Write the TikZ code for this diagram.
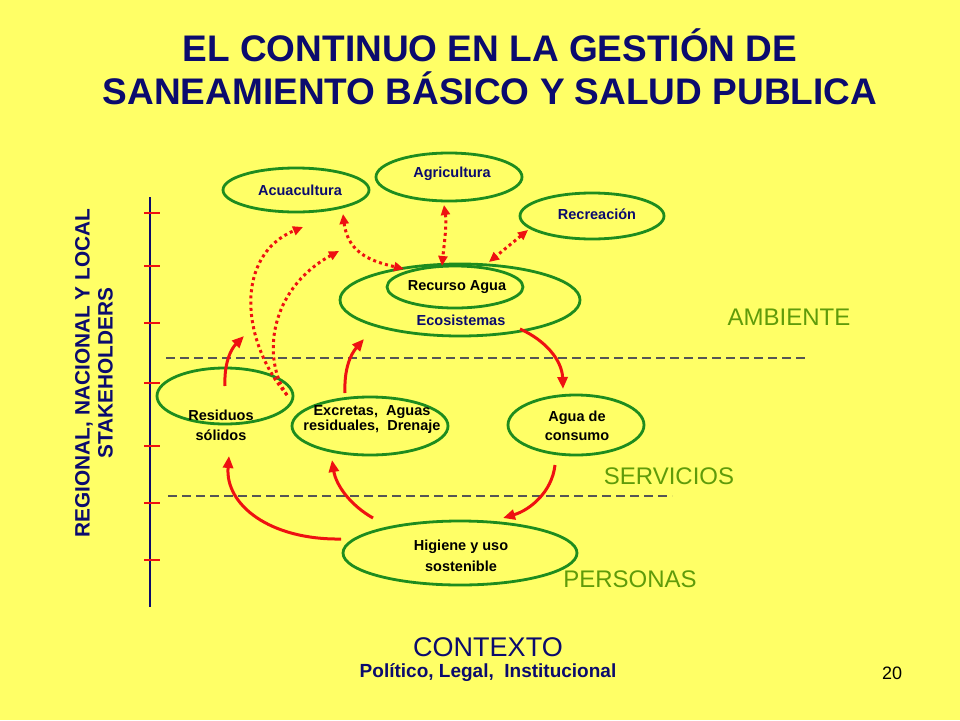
\documentclass[tikz,border=0pt]{standalone}
\usepackage{fontspec}
\setmainfont{Liberation Sans}
\usetikzlibrary{arrows.meta,shapes.geometric}
\definecolor{bgy}{HTML}{FFFF66}
\definecolor{navy}{HTML}{0B0B6E}
\definecolor{egreen}{HTML}{1E8C1E}
\definecolor{lgreen}{HTML}{5F9B0A}
\definecolor{ared}{HTML}{EE1111}
\definecolor{dgray}{HTML}{555555}
\begin{document}
\begin{tikzpicture}[x=1pt,y=-1pt,
  ell/.style={draw=egreen,line width=2.8pt,ellipse,inner sep=0pt},
  etext/.style={font=\fontsize{14.5}{15}\selectfont\bfseries,inner sep=0pt,align=center},
  zone/.style={font=\fontsize{24}{26}\selectfont,text=lgreen,inner sep=0pt},
  solidarr/.style={draw=ared,line width=3pt,-{Triangle[length=12pt,width=10pt]}},
  dotarr/.style={draw=ared,line width=3pt,dash pattern=on 3pt off 3.2pt,-{Triangle[length=10pt,width=9pt]}},
  dotarrb/.style={draw=ared,line width=3pt,dash pattern=on 3pt off 3.2pt,{Triangle[length=10pt,width=9pt]}-{Triangle[length=10pt,width=9pt]}},
  sep/.style={draw=dgray,line width=1.3pt,dash pattern=on 9pt off 5pt}]
\fill[bgy] (0,0) rectangle (960,720);
\useasboundingbox (0,0) rectangle (960,720);

% title
\node[font=\fontsize{37}{43}\selectfont\bfseries,text=navy,align=center,inner sep=0pt] (title) at (490,67)
  {EL CONTINUO EN LA GESTIÓN DE\\SANEAMIENTO BÁSICO Y SALUD PUBLICA};

% axis
\coordinate (axtop) at (150,197);
\coordinate (axbot) at (150,607);
\draw[navy,line width=2pt] (axtop) -- (axbot);
\foreach \yy in {213,266,323,383,446,503,560}{
  \draw[ared,line width=1.3pt] (144,\yy) -- (160,\yy);
}
\node[rotate=90,font=\fontsize{20.8}{23}\selectfont\bfseries,text=navy,align=center,inner sep=0pt] (stake) at (94,373)
  {REGIONAL, NACIONAL Y LOCAL\\STAKEHOLDERS};

% separators
\coordinate (s1a) at (166,358); \coordinate (s1b) at (808,358);
\coordinate (s2a) at (168,496); \coordinate (s2b) at (672,496);
\draw[sep] (s1a) -- (s1b);
\draw[sep] (s2a) -- (s2b);

% ellipses
\node[ell,minimum width=146pt,minimum height=44pt] (acua) at (296,190) {};
\node[ell,minimum width=146pt,minimum height=48pt] (agri) at (449,177) {};
\node[ell,minimum width=144pt,minimum height=46pt] (recr) at (592,216) {};
\node[ell,minimum width=240pt,minimum height=72pt] (eco) at (460,300) {};
\node[ell,minimum width=136pt,minimum height=42pt] (recu) at (455,287) {};
\node[ell,minimum width=136pt,minimum height=56pt] (resi) at (225,396) {};
\node[ell,minimum width=156pt,minimum height=58pt] (excr) at (370,426) {};
\node[ell,minimum width=136pt,minimum height=60pt] (cons) at (576,425) {};
\node[ell,minimum width=234pt,minimum height=64pt] (higi) at (460,553) {};

% ellipse texts
\node[etext,text=navy] (tacua) at (300,190) {Acuacultura};
\node[etext,text=navy] (tagri) at (452,174) {Agricultura};
\node[etext,text=navy] (trecr) at (597,214) {Recreación};
\node[etext,text=black] (trecu) at (457,287) {Recurso Agua};
\node[etext,text=navy] (teco) at (461,320) {Ecosistemas};
\node[etext,text=black,font=\fontsize{14.5}{20}\selectfont\bfseries] (tresi) at (221,425) {Residuos\\sólidos};
\node[etext,text=black] (texcr) at (372,420) {Excretas,\ \ Aguas\\residuales,\ \ Drenaje};
\node[etext,text=black,font=\fontsize{14.5}{19}\selectfont\bfseries] (tcons) at (577,426) {Agua de\\consumo};
\node[etext,text=black,font=\fontsize{14.5}{21}\selectfont\bfseries] (thigi) at (461,556) {Higiene y uso\\sostenible};

% zone labels
\node[zone] (amb) at (789,317) {AMBIENTE};
\node[zone] (serv) at (669,476) {SERVICIOS};
\node[zone] (pers) at (630,579) {PERSONAS};

% solid arrows (cycle)
\coordinate (c1s) at (520,329); \coordinate (c1e) at (563,389);
\draw[solidarr] (c1s) .. controls (545,340) and (562,360) .. (c1e);
\coordinate (c2s) at (555,465); \coordinate (c2e) at (503,518);
\draw[solidarr] (c2s) .. controls (552,492) and (530,510) .. (c2e);
\coordinate (c3s) at (341,539); \coordinate (c3e) at (229,456);
\draw[solidarr] (c3s) .. controls (270,540) and (225,505) .. (c3e);
\coordinate (c4s) at (373,518); \coordinate (c4e) at (332,460);
\draw[solidarr] (c4s) .. controls (350,505) and (336,485) .. (c4e);
\coordinate (c5s) at (225,386); \coordinate (c5e) at (244,336);
\draw[solidarr] (c5s) .. controls (224,365) and (230,350) .. (c5e);
\coordinate (c6s) at (345,393); \coordinate (c6e) at (364,339);
\draw[solidarr] (c6s) .. controls (344,370) and (350,355) .. (c6e);

% dotted double arrows
\coordinate (d1a) at (343,214); \coordinate (d1b) at (404,269);
\draw[dotarrb] (d1a) .. controls (348,255) and (375,262) .. (d1b);
\coordinate (d2a) at (444,205); \coordinate (d2b) at (442,266);
\draw[dotarrb] (d2a) .. controls (447,225) and (444,245) .. (d2b);
\coordinate (d3a) at (528,230); \coordinate (d3b) at (489,262);
\draw[dotarrb] (d3a) -- (d3b);

% dotted single arrows
\coordinate (dsa) at (287,395);
\coordinate (d4e) at (303,227);
\draw[dotarr] (dsa) .. controls (240,340) and (235,255) .. (d4e);
\coordinate (d5e) at (339,251);
\draw[dotarr] (dsa) .. controls (262,360) and (268,290) .. (d5e);

% bottom
\node[font=\fontsize{27}{30}\selectfont,text=navy,inner sep=0pt] (ctx) at (488,647) {CONTEXTO};
\node[font=\fontsize{19}{22}\selectfont\bfseries,text=navy,inner sep=0pt] (pol) at (488,673) {Político, Legal,\ \ Institucional};
\node[font=\fontsize{18}{20}\selectfont,text=black,inner sep=0pt] (pg) at (892,673) {20};
\end{tikzpicture}
\end{document}
